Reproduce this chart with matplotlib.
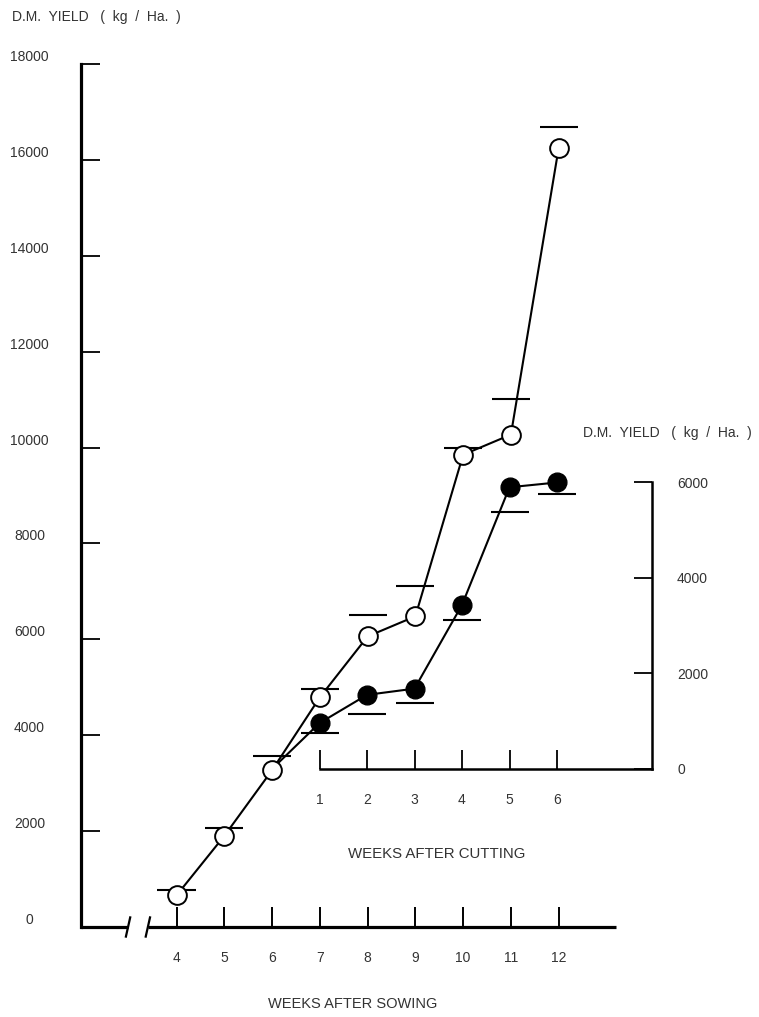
import matplotlib.pyplot as plt
import numpy as np

plt.rcParams['font.family'] = ['Liberation Sans', 'DejaVu Sans']
TXT = '#333333'

# whole crop, weeks after sowing
sow_weeks = [4, 5, 6, 7, 8, 9, 10, 11, 12]
sow_yield = [660, 1900, 3270, 4790, 6060, 6480, 9850, 10270, 16250]
sow_err = [110, 170, 290, 170, 440, 640, 150, 750, 440]

# regrowth after cutting at week 6
cut_weeks = [1, 2, 3, 4, 5, 6]
cut_yield = [960, 1550, 1680, 3430, 5890, 5990]
cut_err = [210, 400, 300, 320, 510, 240]

sow_yticks = list(range(0, 18001, 2000))
cut_yticks = [0, 2000, 4000, 6000]

W, H = 759, 1017
fig = plt.figure(figsize=(W / 100, H / 100), dpi=100)
fig.patch.set_facecolor('white')

# main axes
ax = fig.add_axes([81 / W, 90 / H, 535 / W, 863 / H])
ax.set_xlim(2, 13.2)
ax.set_ylim(0, 18000)
ax.patch.set_visible(False)
ax.set_zorder(2)
for s in ['top', 'right', 'bottom']:
    ax.spines[s].set_visible(False)
ax.spines['left'].set_linewidth(2.3)

ax.set_xticks(sow_weeks)
ax.set_xticklabels([str(w) for w in sow_weeks])
ax.set_yticks(sow_yticks)
ax.set_yticklabels([str(v) for v in sow_yticks])
ax.tick_params(axis='x', direction='in', length=14.5, width=1.4, pad=17.5,
               labelsize=10, labelcolor=TXT)
ax.tick_params(axis='y', direction='in', length=13.5, width=1.3, pad=37,
               labelsize=10, labelcolor=TXT)
for lab in ax.get_yticklabels():
    lab.set_ha('center')
    lab.set_va('bottom')

# broken x axis
ax.plot([2, 2.98], [0, 0], color='k', lw=2.3, clip_on=False, solid_capstyle='butt')
ax.plot([3.4, 13.2], [0, 0], color='k', lw=2.3, clip_on=False, solid_capstyle='butt')
for xb in [2.985, 3.40]:
    ax.plot([xb - 0.045, xb + 0.045], [-200, 200], color='k', lw=1.6, clip_on=False)

sw = np.array(sow_weeks)
ax.plot(sow_weeks, sow_yield, color='k', lw=1.5, marker='o', ms=13.5,
        mfc='white', mec='k', mew=1.4, clip_on=False, zorder=3)
ax.hlines(np.array(sow_yield) + np.array(sow_err), sw - 0.4, sw + 0.4,
          color='k', lw=1.5, zorder=2)

# inset: regrowth after cutting
ax2 = fig.add_axes([272 / W, 248 / H, 380 / W, 287 / H])
ax2.set_xlim(0, 8)
ax2.set_ylim(0, 6000)
ax2.patch.set_visible(False)
ax2.set_zorder(1)
for s in ['top', 'left']:
    ax2.spines[s].set_visible(False)
ax2.spines['right'].set_linewidth(1.8)
ax2.spines['bottom'].set_linewidth(1.8)
ax2.spines['bottom'].set_bounds(1, 8)
ax2.yaxis.tick_right()
ax2.set_xticks(cut_weeks)
ax2.set_xticklabels([str(w) for w in cut_weeks])
ax2.set_yticks(cut_yticks)
ax2.set_yticklabels([str(v) for v in cut_yticks])
ax2.tick_params(axis='x', direction='in', length=13.5, width=1.3, pad=17,
                labelsize=10, labelcolor=TXT)
ax2.tick_params(axis='y', direction='in', length=13, width=1.3, pad=18,
                labelsize=10, labelcolor=TXT)

cw = np.array(cut_weeks)
ax2.plot([0] + cut_weeks, [0] + cut_yield, color='k', lw=1.5, clip_on=False)
ax2.plot(cut_weeks, cut_yield, ls='none', marker='o', ms=13.5, mfc='k', mec='k',
         clip_on=False)
ax2.hlines(np.array(cut_yield) - np.array(cut_err), cw - 0.4, cw + 0.4,
           color='k', lw=1.5, clip_on=False)

# axis titles
fig.text(12 / W, 1 - 17 / H, 'D.M.  YIELD   (  kg  /  Ha.  )', fontsize=10,
         color=TXT, ha='left', va='center')
fig.text(583 / W, 1 - 433 / H, 'D.M.  YIELD   (  kg  /  Ha.  )', fontsize=10,
         color=TXT, ha='left', va='center')
fig.text(437 / W, 1 - 854 / H, 'WEEKS AFTER CUTTING', fontsize=10.8,
         color=TXT, ha='center', va='center')
fig.text(353 / W, 1 - 1004 / H, 'WEEKS AFTER SOWING', fontsize=10.5,
         color=TXT, ha='center', va='center')

fig.savefig('out.png', dpi=100)
